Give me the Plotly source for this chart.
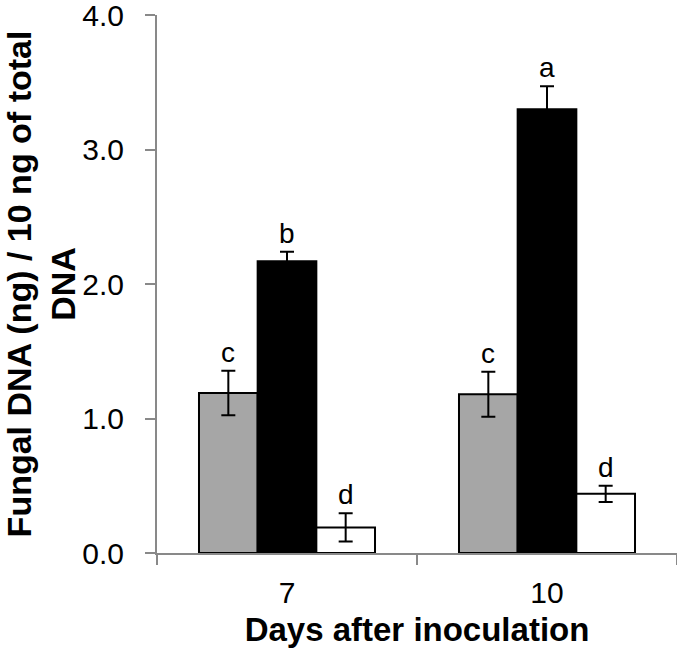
import plotly.graph_objects as go

days = ["7", "10"]
gray_vals = [1.19, 1.18]
gray_err = [0.165, 0.167]
black_vals = [2.17, 3.30]
black_err = [0.07, 0.17]
white_vals = [0.19, 0.44]
white_err = [0.105, 0.06]
gray_letters = ["c", "c"]
black_letters = ["b", "a"]
white_letters = ["d", "d"]

FONT = "Liberation Sans, Arial, sans-serif"
AXIS_COLOR = "#898989"

fig = go.Figure()
series = [
    ("gray", gray_vals, gray_err, "#A6A6A6"),
    ("black", black_vals, black_err, "#000000"),
    ("white", white_vals, white_err, "#FFFFFF"),
]
for name, vals, errs, color in series:
    fig.add_trace(go.Bar(
        x=days, y=vals, name=name, offsetgroup=name,
        marker=dict(color=color, line=dict(color="#000000", width=2)),
        error_y=dict(type="data", array=errs, visible=True, color="#000000", thickness=2, width=7),
        showlegend=False,
    ))

# significance letters placed above the error bars
letters_sets = [gray_letters, black_letters, white_letters]
vals_sets = [gray_vals, black_vals, white_vals]
errs_sets = [gray_err, black_err, white_err]
group_w = 1 - 0.323
bar_w = group_w / 3
for k in range(3):
    for i, d in enumerate(days):
        xpos = i - group_w / 2 + bar_w * (k + 0.5)
        fig.add_annotation(
            x=xpos, y=vals_sets[k][i] + errs_sets[k][i], xref="x", yref="y",
            text=letters_sets[k][i], showarrow=False, yanchor="bottom", yshift=1,
            font=dict(family=FONT, size=28, color="#000000"),
        )

fig.update_layout(
    width=677, height=661,
    margin=dict(l=157, r=0, t=15, b=108, autoexpand=False),
    paper_bgcolor="white", plot_bgcolor="white",
    barmode="group", bargap=0.323, bargroupgap=0,
    font=dict(family=FONT, color="#000000"),
)
fig.update_xaxes(
    type="category", range=[-0.5, 1.5], automargin=False,
    showline=True, linecolor=AXIS_COLOR, linewidth=2,
    ticks="outside", tickson="boundaries", ticklen=10, tickcolor=AXIS_COLOR, tickwidth=2,
    ticklabelstandoff=12,
    tickfont=dict(family=FONT, size=30, color="#000000"),
    title=dict(text="<b>Days after inoculation</b>", font=dict(family=FONT, size=33, color="#000000"), standoff=10),
    showgrid=False, zeroline=False,
)
fig.update_yaxes(
    range=[0, 4], dtick=1, tickformat=".1f", automargin=False,
    showline=True, linecolor=AXIS_COLOR, linewidth=2,
    ticks="outside", ticklen=10, tickcolor=AXIS_COLOR, tickwidth=2,
    ticklabelstandoff=15, ticklabeloverflow="allow",
    tickfont=dict(family=FONT, size=30, color="#000000"),
    title=dict(text="<b>Fungal DNA (ng) / 10 ng of total<br>DNA</b>", font=dict(family=FONT, size=34, color="#000000"), standoff=48),
    showgrid=False, zeroline=False,
)

fig.write_html("out.html", config={"displayModeBar": False},
               post_script="document.body.style.margin='0px';")
